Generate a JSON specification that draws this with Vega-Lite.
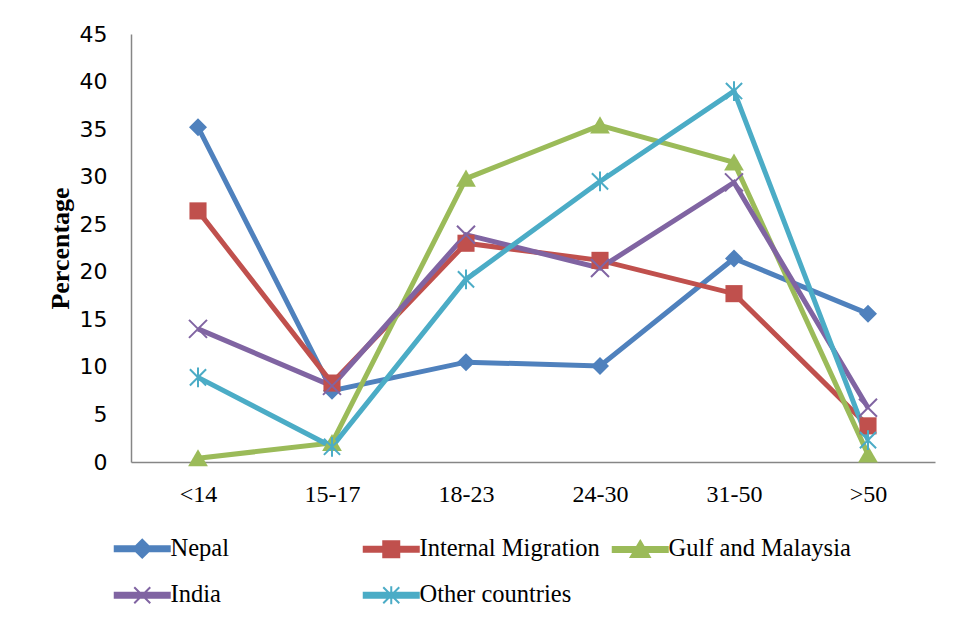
{
  "$schema": "https://vega.github.io/schema/vega-lite/v6.json",
  "width": 804,
  "height": 428,
  "autosize": {"type": "none"},
  "padding": {"left": 131, "top": 34, "right": 18, "bottom": 160},
  "background": "white",
  "config": {
    "view": {"stroke": null},
    "axis": {"domainColor": "#868686", "domainWidth": 1.5, "ticks": false, "grid": false, "labelColor": "black"}
  },
  "data": {"values": [
    {"age": "<14", "series": "Nepal", "pct": 35.2},
    {"age": "15-17", "series": "Nepal", "pct": 7.5},
    {"age": "18-23", "series": "Nepal", "pct": 10.5},
    {"age": "24-30", "series": "Nepal", "pct": 10.1},
    {"age": "31-50", "series": "Nepal", "pct": 21.4},
    {"age": ">50", "series": "Nepal", "pct": 15.6},
    {"age": "<14", "series": "Internal Migration", "pct": 26.4},
    {"age": "15-17", "series": "Internal Migration", "pct": 8.3},
    {"age": "18-23", "series": "Internal Migration", "pct": 23.0},
    {"age": "24-30", "series": "Internal Migration", "pct": 21.2},
    {"age": "31-50", "series": "Internal Migration", "pct": 17.7},
    {"age": ">50", "series": "Internal Migration", "pct": 3.8},
    {"age": "<14", "series": "Gulf and Malaysia", "pct": 0.4},
    {"age": "15-17", "series": "Gulf and Malaysia", "pct": 2.0},
    {"age": "18-23", "series": "Gulf and Malaysia", "pct": 29.8},
    {"age": "24-30", "series": "Gulf and Malaysia", "pct": 35.4},
    {"age": "31-50", "series": "Gulf and Malaysia", "pct": 31.5},
    {"age": ">50", "series": "Gulf and Malaysia", "pct": 0.8},
    {"age": "<14", "series": "India", "pct": 14.0},
    {"age": "15-17", "series": "India", "pct": 8.0},
    {"age": "18-23", "series": "India", "pct": 23.9},
    {"age": "24-30", "series": "India", "pct": 20.4},
    {"age": "31-50", "series": "India", "pct": 29.4},
    {"age": ">50", "series": "India", "pct": 5.7},
    {"age": "<14", "series": "Other countries", "pct": 8.9},
    {"age": "15-17", "series": "Other countries", "pct": 1.6},
    {"age": "18-23", "series": "Other countries", "pct": 19.2},
    {"age": "24-30", "series": "Other countries", "pct": 29.5},
    {"age": "31-50", "series": "Other countries", "pct": 39.0},
    {"age": ">50", "series": "Other countries", "pct": 2.3}
  ]},
  "encoding": {
    "x": {
      "field": "age", "type": "nominal",
      "sort": ["<14", "15-17", "18-23", "24-30", "31-50", ">50"],
      "scale": {"type": "point", "padding": 0.5},
      "axis": {"title": null, "labelAngle": 0, "labelFont": "Liberation Serif", "labelFontSize": 24, "labelPadding": 20}
    },
    "y": {
      "field": "pct", "type": "quantitative",
      "scale": {"domain": [0, 45], "nice": false},
      "axis": {
        "values": [0, 5, 10, 15, 20, 25, 30, 35, 40, 45],
        "labelFont": "DejaVu Sans", "labelFontSize": 22, "labelPadding": 24,
        "title": "Percentage", "titleFont": "Liberation Serif", "titleFontSize": 26, "titleFontWeight": "bold",
        "titleX": -71, "titleY": 214, "titleAlign": "center", "titleBaseline": "middle", "titleAngle": -90, "titleColor": "black"
      }
    },
    "color": {
      "field": "series", "type": "nominal",
      "scale": {
        "domain": ["Nepal", "Internal Migration", "Gulf and Malaysia", "India", "Other countries"],
        "range": ["#4F81BD", "#C0504D", "#9BBB59", "#8064A2", "#4BACC6"]
      }
    }
  },
  "layer": [
    {
      "mark": {"type": "line", "strokeWidth": 5},
      "encoding": {
        "color": {
          "field": "series", "type": "nominal",
          "legend": {
            "title": null,
            "orient": "none",
            "legendX": -1,
            "legendY": 502,
            "direction": "horizontal",
            "columns": 3,
            "gridAlign": "all",
            "columnPadding": 6,
            "rowPadding": 20,
            "padding": 0,
            "labelFont": "Liberation Serif",
            "labelFontSize": 24.5,
            "labelColor": "black",
            "labelOffset": 16,
            "labelLimit": 400,
            "symbolSize": 100,
            "encode": {
              "symbols": {
                "update": {
                  "shape": {"signal": "{'Nepal': 'M-5.5,-0.5L5.5,-0.5L5.5,0.5L-5.5,0.5ZM0,-1.8L1.8,0L0,1.8L-1.8,0Z', 'Internal Migration': 'M-5.5,-0.5L5.5,-0.5L5.5,0.5L-5.5,0.5ZM-1.6,-1.6L1.6,-1.6L1.6,1.6L-1.6,1.6Z', 'Gulf and Malaysia': 'M-5.5,-0.5L5.5,-0.5L5.5,0.5L-5.5,0.5ZM0,-1.7L1.9,1.5L-1.9,1.5Z', 'India': 'M-5.5,-0.5L5.5,-0.5L5.5,0.5L-5.5,0.5ZM-1.6,-1.6L1.6,1.6M-1.6,1.6L1.6,-1.6', 'Other countries': 'M-5.5,-0.5L5.5,-0.5L5.5,0.5L-5.5,0.5ZM-1.6,-1.6L1.6,1.6M-1.6,1.6L1.6,-1.6M0,-1.8L0,1.8'}[datum.value]"},
                  "fill": {"scale": "color", "field": "value"},
                  "stroke": {"scale": "color", "field": "value"},
                  "strokeWidth": {"value": 2},
                  "size": {"value": 100},
                  "opacity": {"value": 1},
                  "fillOpacity": {"value": 1}
                }
              }
            }
          }
        }
      }
    },
    {
      "transform": [{"filter": "datum.series === 'Nepal'"}],
      "mark": {"type": "point", "filled": true, "size": 324, "strokeWidth": 2, "opacity": 1, "shape": "M0,-1L1,0L0,1L-1,0Z"},
      "encoding": {"color": {"field": "series", "type": "nominal", "legend": null}}
    },
    {
      "transform": [{"filter": "datum.series === 'Internal Migration'"}],
      "mark": {"type": "point", "filled": true, "size": 324, "strokeWidth": 2, "opacity": 1, "shape": "M-0.95,-0.95L0.95,-0.95L0.95,0.95L-0.95,0.95Z"},
      "encoding": {"color": {"field": "series", "type": "nominal", "legend": null}}
    },
    {
      "transform": [{"filter": "datum.series === 'Gulf and Malaysia'"}],
      "mark": {"type": "point", "filled": true, "size": 324, "strokeWidth": 2, "opacity": 1, "shape": "M0,-1L1.1,0.9L-1.1,0.9Z"},
      "encoding": {"color": {"field": "series", "type": "nominal", "legend": null}}
    },
    {
      "transform": [{"filter": "datum.series === 'India'"}],
      "mark": {"type": "point", "filled": false, "size": 324, "strokeWidth": 2, "opacity": 1, "shape": "M-1,-1L1,1M-1,1L1,-1"},
      "encoding": {"color": {"field": "series", "type": "nominal", "legend": null}}
    },
    {
      "transform": [{"filter": "datum.series === 'Other countries'"}],
      "mark": {"type": "point", "filled": false, "size": 324, "strokeWidth": 2, "opacity": 1, "shape": "M-0.9,-0.9L0.9,0.9M-0.9,0.9L0.9,-0.9M0,-1.1L0,1.1"},
      "encoding": {"color": {"field": "series", "type": "nominal", "legend": null}}
    }
  ]
}
